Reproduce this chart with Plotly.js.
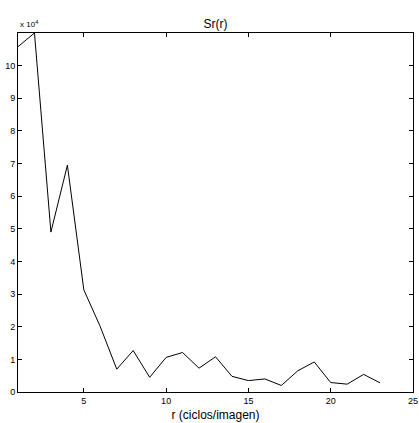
<!DOCTYPE html>
<html>
<head>
<meta charset="utf-8">
<script src="https://cdn.plot.ly/plotly-3.0.1.min.js"></script>
<style>html,body{margin:0;padding:0;background:#fff;}#chart{width:419px;height:423px;}</style>
</head>
<body>
<div id="chart"></div>
<script>
// r (ciclos/imagen)
const rValues = [1,2,3,4,5,6,7,8,9,10,11,12,13,14,15,16,17,18,19,20,21,22,23];
// Sr(r)
const srValues = [105800,110000,49000,69500,31300,20000,7000,12700,4500,10600,12100,7300,10800,4800,3500,4000,2000,6500,9200,2900,2400,5400,2800];
const xTickVals = [5,10,15,20,25];
const yTickVals = [0,10000,20000,30000,40000,50000,60000,70000,80000,90000,100000];
const yTickText = ['0','1','2','3','4','5','6','7','8','9','10'];

const font = 'Liberation Sans, Arial, sans-serif';
Plotly.newPlot('chart', [{
  x: rValues, y: srValues, type: 'scatter', mode: 'lines',
  line: {color: '#000', width: 1}, hoverinfo: 'skip'
}], {
  width: 419, height: 423,
  margin: {l: 18, r: 6, t: 33, b: 31},
  paper_bgcolor: '#fff', plot_bgcolor: '#fff',
  showlegend: false,
  title: {text: 'Sr(r)', font: {family: font, size: 12, color: '#000'}, x: 0.5, xref: 'paper', y: 1, yref: 'paper', yanchor: 'bottom', pad: {b: 5}},
  xaxis: {
    range: [1, 25], tickvals: xTickVals, ticks: 'inside', ticklen: 4, tickcolor: '#000',
    showline: true, linecolor: '#000', linewidth: 1, mirror: 'ticks', showgrid: false, zeroline: false,
    tickfont: {family: font, size: 9, color: '#000'},
    title: {text: 'r (ciclos/imagen)', font: {family: font, size: 12, color: '#000'}, standoff: 5}
  },
  yaxis: {
    range: [0, 110000], tickvals: yTickVals, ticktext: yTickText, ticks: 'inside', ticklen: 4, tickcolor: '#000',
    showline: true, linecolor: '#000', linewidth: 1, mirror: 'ticks', showgrid: false, zeroline: false,
    tickfont: {family: font, size: 9, color: '#000'}
  },
  annotations: [{
    text: 'x 10<sup>4</sup>', xref: 'paper', yref: 'paper', x: 0, y: 1, xanchor: 'left', yanchor: 'bottom',
    showarrow: false, yshift: 2, font: {family: font, size: 8, color: '#000'}
  }]
}, {displayModeBar: false, staticPlot: true});
</script>
</body>
</html>
